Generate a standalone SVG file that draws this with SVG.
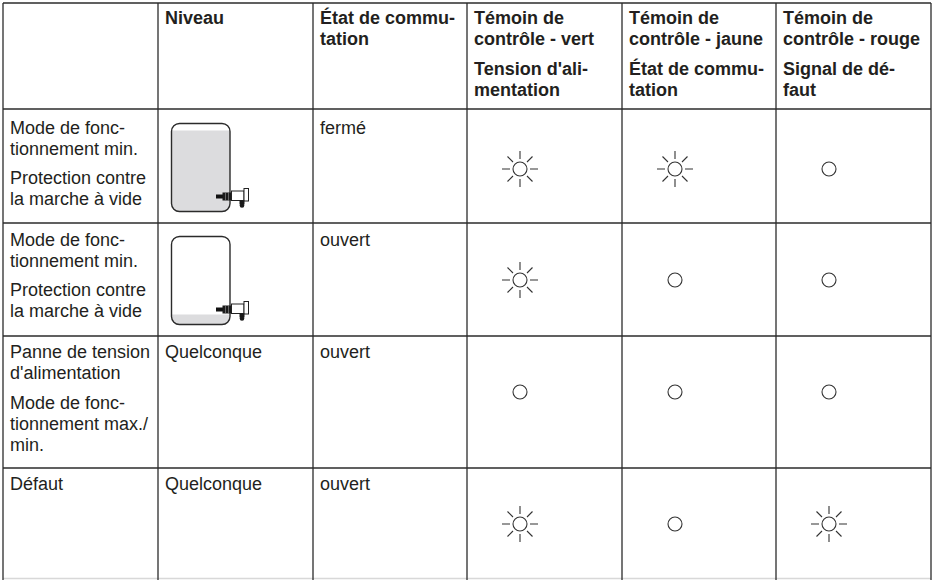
<svg xmlns="http://www.w3.org/2000/svg" xmlns:xlink="http://www.w3.org/1999/xlink" width="937" height="580" viewBox="0 0 937 580">
<style>
text{font-family:"Liberation Sans",Arial,sans-serif;font-size:18px;fill:#231f20}
.b{font-weight:bold}
.grid line{stroke:#2b2b2b;stroke-width:1.3}
.lamp{fill:none;stroke:#333;stroke-width:1.1}
.tank{fill:none;stroke:#2b2b2b;stroke-width:1.4}
</style>
<defs>
<g id="off"><circle class="lamp" cx="0" cy="0" r="7"/></g>
<g id="on" class="lamp">
<circle cx="0" cy="0" r="7"/>
<path d="M0,-10V-18M0,10V18M-10,0H-18M10,0H18M7,-7L12.5,-12.5M-7,-7L-12.5,-12.5M7,7L12.5,12.5M-7,7L-12.5,12.5"/>
</g>
<g id="sensor">
<rect x="216" y="194.5" width="7" height="4" fill="#111"/>
<rect x="222.5" y="192.5" width="9" height="8" fill="#1a1a1a"/>
<line x1="225.5" y1="192.5" x2="225.5" y2="200.5" stroke="#888" stroke-width="0.7"/>
<line x1="228.5" y1="192.5" x2="228.5" y2="200.5" stroke="#888" stroke-width="0.7"/>
<rect x="231.5" y="191" width="12.5" height="9.5" fill="#fff" stroke="#222" stroke-width="1"/>
<rect x="244" y="188.5" width="4.5" height="12.5" fill="#fff" stroke="#222" stroke-width="1"/>
<rect x="239.5" y="200.5" width="5" height="4" fill="#1a1a1a"/>
<circle cx="242" cy="205.5" r="2.3" fill="#1a1a1a"/>
</g>
<clipPath id="c1"><rect x="171.5" y="123.5" width="58.5" height="88" rx="8"/></clipPath>
<clipPath id="c2"><rect x="171.5" y="236.5" width="58.5" height="88" rx="8"/></clipPath>
</defs>
<rect width="937" height="580" fill="#fff"/>

<g id="connectors" class="grid">
<line x1="3" y1="3" x2="931" y2="3"/>
<line x1="3" y1="109" x2="931" y2="109"/>
<line x1="3" y1="223" x2="931" y2="223"/>
<line x1="3" y1="336" x2="931" y2="336"/>
<line x1="3" y1="468" x2="931" y2="468"/>
<line x1="3" y1="578.5" x2="931" y2="578.5" style="stroke:#d8d8d8"/>
<line x1="3" y1="3" x2="3" y2="580"/>
<line x1="158" y1="3" x2="158" y2="580"/>
<line x1="313" y1="3" x2="313" y2="580"/>
<line x1="467" y1="3" x2="467" y2="580"/>
<line x1="622" y1="3" x2="622" y2="580"/>
<line x1="776" y1="3" x2="776" y2="580"/>
<line x1="931" y1="3" x2="931" y2="580"/>
</g>

<g id="header">
<text class="b" x="165" y="24">Niveau</text>
<text class="b" x="320" y="24">État de commu-</text>
<text class="b" x="320" y="45">tation</text>
<text class="b" x="474" y="24">Témoin de</text>
<text class="b" x="474" y="45">contrôle - vert</text>
<text class="b" x="474" y="75">Tension d'ali-</text>
<text class="b" x="474" y="96">mentation</text>
<text class="b" x="629" y="24">Témoin de</text>
<text class="b" x="629" y="45">contrôle - jaune</text>
<text class="b" x="629" y="75">État de commu-</text>
<text class="b" x="629" y="96">tation</text>
<text class="b" x="783" y="24">Témoin de</text>
<text class="b" x="783" y="45">contrôle - rouge</text>
<text class="b" x="783" y="75">Signal de dé-</text>
<text class="b" x="783" y="96">faut</text>
</g>

<g id="row1">
<text x="10" y="134">Mode de fonc-</text>
<text x="10" y="155">tionnement min.</text>
<text x="10" y="184">Protection contre</text>
<text x="10" y="205">la marche à vide</text>
<g id="tank1">
<rect x="171.5" y="123.5" width="58.5" height="88" rx="8" fill="#fff"/>
<rect x="171.5" y="130.5" width="58.5" height="82" fill="#dcdcde" clip-path="url(#c1)"/>
<rect class="tank" x="171.5" y="123.5" width="58.5" height="88" rx="8"/>
<use xlink:href="#sensor"/>
</g>
<text x="320" y="134">fermé</text>
<use xlink:href="#on" x="520" y="169"/>
<use xlink:href="#on" x="675" y="169"/>
<use xlink:href="#off" x="829" y="169"/>
</g>

<g id="row2">
<text x="10" y="246">Mode de fonc-</text>
<text x="10" y="267">tionnement min.</text>
<text x="10" y="296">Protection contre</text>
<text x="10" y="317">la marche à vide</text>
<g id="tank2">
<rect x="171.5" y="236.5" width="58.5" height="88" rx="8" fill="#fff"/>
<rect x="171.5" y="314.5" width="58.5" height="12" fill="#dcdcde" clip-path="url(#c2)"/>
<rect class="tank" x="171.5" y="236.5" width="58.5" height="88" rx="8"/>
<use xlink:href="#sensor" transform="translate(0,113)"/>
</g>
<text x="320" y="246">ouvert</text>
<use xlink:href="#on" x="520" y="280"/>
<use xlink:href="#off" x="675" y="280"/>
<use xlink:href="#off" x="829" y="280"/>
</g>

<g id="row3">
<text x="10" y="358">Panne de tension</text>
<text x="10" y="379">d'alimentation</text>
<text x="10" y="409">Mode de fonc-</text>
<text x="10" y="430">tionnement max./</text>
<text x="10" y="451">min.</text>
<text x="165" y="358">Quelconque</text>
<text x="320" y="358">ouvert</text>
<use xlink:href="#off" x="520" y="392"/>
<use xlink:href="#off" x="675" y="392"/>
<use xlink:href="#off" x="829" y="392"/>
</g>

<g id="row4">
<text x="10" y="490">Défaut</text>
<text x="165" y="490">Quelconque</text>
<text x="320" y="490">ouvert</text>
<use xlink:href="#on" x="520" y="524"/>
<use xlink:href="#off" x="675" y="524"/>
<use xlink:href="#on" x="829" y="524"/>
</g>
</svg>
